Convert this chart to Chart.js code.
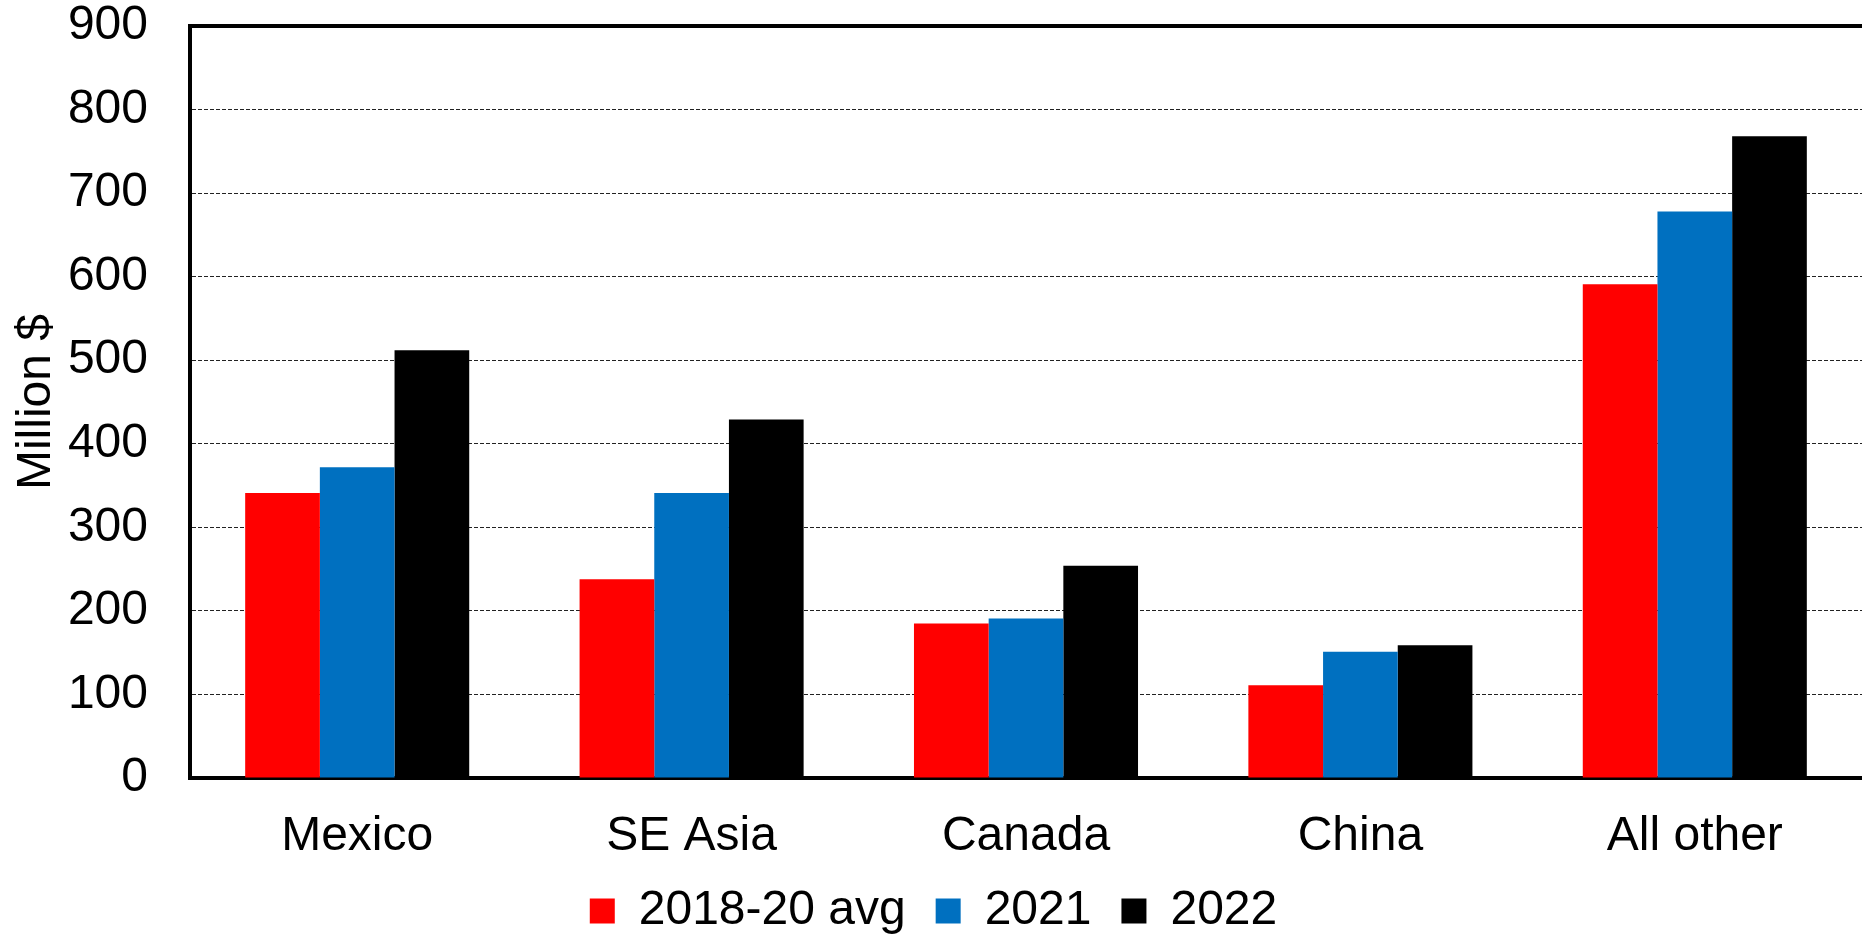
<!DOCTYPE html>
<html>
<head>
<meta charset="utf-8">
<script src="https://cdn.jsdelivr.net/npm/chart.js@4.4.1/dist/chart.umd.min.js"></script>
<style>
  html, body { margin: 0; padding: 0; background: #fff; }
  #wrap { width: 1862px; height: 935px; position: relative; }
</style>
</head>
<body>
<div id="wrap"><canvas id="exportsChart"></canvas></div>
<script>
// Data
const categories = ['Mexico', 'SE Asia', 'Canada', 'China', 'All other'];
const avg2018to20 = [341, 238, 185, 111, 591];
const year2021 = [372, 341, 191, 151, 678];
const year2022 = [512, 429, 254, 159, 768];
const yTicks = [0, 100, 200, 300, 400, 500, 600, 700, 800, 900];

const FONT = 'Liberation Sans, Arial, sans-serif';

// top frame line of the plot (no right edge in the original)
const topFrame = {
  id: 'topFrame',
  afterDatasetsDraw(chart) {
    const { ctx, chartArea } = chart;
    ctx.save();
    ctx.strokeStyle = '#000';
    ctx.lineWidth = 4;
    ctx.beginPath();
    ctx.moveTo(chartArea.left - 2, chartArea.top);
    ctx.lineTo(chartArea.right, chartArea.top);
    ctx.stroke();
    ctx.restore();
  }
};

const ctx = document.getElementById('exportsChart');
new Chart(ctx, {
  type: 'bar',
  data: {
    labels: categories,
    datasets: [
      { label: '2018-20 avg', data: avg2018to20, backgroundColor: '#FF0000', borderWidth: 0 },
      { label: '2021', data: year2021, backgroundColor: '#0070C0', borderWidth: 0 },
      { label: '2022', data: year2022, backgroundColor: '#000000', borderWidth: 0 }
    ]
  },
  options: {
    responsive: true,
    maintainAspectRatio: false,
    animation: false,
    layout: { padding: { left: 0, right: -5, top: 0, bottom: -10 } },
    datasets: { bar: { categoryPercentage: 0.67, barPercentage: 1.0 } },
    scales: {
      x: {
        afterFit(scale) { scale.height = 79; },
        grid: { display: false, drawTicks: false },
        border: { display: true, color: '#000', width: 4 },
        ticks: { color: '#000', padding: 30, font: { family: FONT, size: 48 } }
      },
      y: {
        min: 0,
        max: 900,
        afterBuildTicks(scale) { scale.ticks = yTicks.map(v => ({ value: v })); },
        afterFit(scale) {
          scale.width = 190;
          scale.paddingTop = 26;
          scale.paddingBottom = 0;
        },
        grid: {
          drawTicks: false,
          color: c => (c.tick && (c.tick.value === 0 || c.tick.value === 900)) ? 'rgba(0,0,0,0)' : '#222',
          lineWidth: 1
        },
        border: { display: true, color: '#000', width: 4, dash: [4, 2] },
        ticks: { color: '#000', padding: 42, font: { family: FONT, size: 48 } },
        title: {
          display: true,
          text: 'Million $',
          color: '#000',
          padding: { top: 8, bottom: 0 },
          font: { family: FONT, size: 48 }
        }
      }
    },
    plugins: {
      legend: {
        position: 'bottom',
        labels: {
          color: '#000',
          boxWidth: 25,
          boxHeight: 25,
          padding: 30,
          font: { family: FONT, size: 48 }
        }
      },
      tooltip: { enabled: false },
      title: { display: false }
    }
  },
  plugins: [topFrame]
});
</script>
</body>
</html>
